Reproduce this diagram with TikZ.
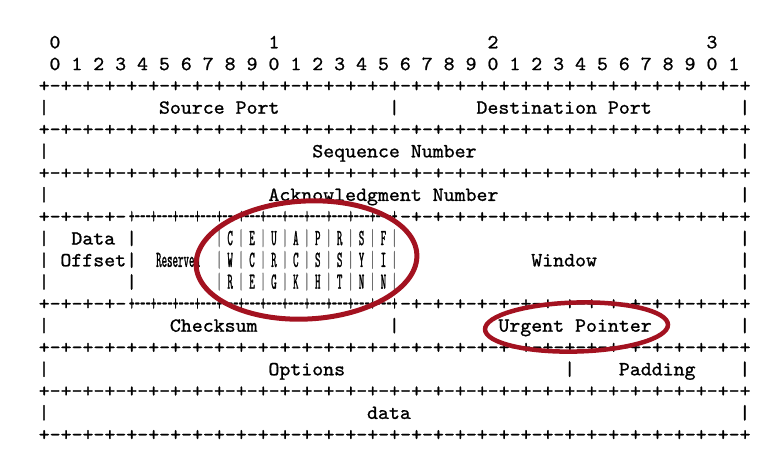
\documentclass[tikz,border=0pt]{standalone}
\usepackage{fontspec}
\usetikzlibrary{positioning}
\newfontfamily\rfcfont[FakeStretch=1.043,FakeBold=1]{lmmono10-regular.otf}
\newfontfamily\narrowfont[FakeStretch=0.4534,FakeBold=1]{lmmono10-regular.otf}
\newcommand{\rfcsize}{\fontsize{20pt}{21.8pt}\selectfont}
\newcommand{\narrowsize}{\fontsize{23pt}{21.8pt}\selectfont}
\newcommand{\tridash}{-\kern0pt-\kern0pt-}
\newcommand{\fullrule}{+-+-+-+-+-+-+-+-+-+-+-+-+-+-+-+-+-+-+-+-+-+-+-+-+-+-+-+-+-+-+-+-+}
\newcommand{\flagrule}{+\tridash+\tridash+\tridash+\tridash+\tridash+\tridash+%
  \tridash+\tridash+\tridash+\tridash+\tridash+\tridash+}
\definecolor{MarkRed}{RGB}{163,18,32}
\definecolor{BarGray}{RGB}{110,110,110}

\begin{document}
\begin{tikzpicture}[x=10.95pt,y=-21.8pt,
  txt/.style={font=\rfcfont\rfcsize,inner sep=0pt,anchor=base,yshift=-5.9pt},
  rule/.style={txt,anchor=base west},
  narrow/.style={font=\narrowfont\narrowsize,inner sep=0pt,anchor=base,yshift=-6.5pt},
  ring/.style={draw=MarkRed,line width=5pt},
]
\useasboundingbox (-44pt,86pt) rectangle (723pt,-364pt);
% bit ruler
\foreach \t in {0,...,3}
  \node[txt] (ten\t) at ({20*\t+1},-2) {\t};
\foreach \b [evaluate=\b as \d using {int(mod(\b,10))}] in {0,...,31}
  \node[txt] (bit\b) at ({2*\b+1},-1) {\d};
% separator lines
\foreach \k in {0,2,4,12,14,16}
  \node[rule] (sep\k) at (-0.5,\k) {\fullrule};
\foreach \k in {6,10}{
  \node[rule] (lsep\k) at (-0.5,\k) {+-+-+-+-};
  \node[narrow,anchor=base west] (msep\k) at (7.75,\k) {\flagrule};
  \node[rule] (rsep\k) at (32.5,\k) {-+-+-+-+-+-+-+-+-+-+-+-+-+-+-+-+};
}
% field borders
\foreach \k/\c in {1/0,1/32,1/64,3/0,3/64,5/0,5/64,7/0,7/8,7/64,8/0,8/8,8/64,
                   9/0,9/8,9/64,11/0,11/32,11/64,13/0,13/48,13/64,15/0,15/64}
  \node[txt] (bar\k-\c) at (\c,\k) {|};
\foreach \k in {7,8,9}
  \foreach \c in {16,18,...,32}
    \node[narrow,text=BarGray] (fbar\k-\c) at (\c,\k) {|};
% field names
\node[txt] (srcport) at (16,1) {Source Port};
\node[txt] (dstport) at (47.5,1) {Destination Port};
\node[txt] (seqnum) at (32,3) {Sequence Number};
\node[txt] (acknum) at (31,5) {Acknowledgment Number};
\node[txt] (data) at (4.5,7) {Data};
\node[txt] (offset) at (4.5,8) {Offset};
\node[narrow] (reserved) at (12.24,8) {Reserved};
\node[txt] (window) at (47.5,8) {Window};
\node[txt] (checksum) at (15.5,11) {Checksum};
\node[txt] (urgent) at (48.5,11) {Urgent Pointer};
\node[txt] (options) at (24,13) {Options};
\node[txt] (padding) at (56,13) {Padding};
\node[txt] (payload) at (31.5,15) {data};
% flag bits, one column each
\foreach \c/\a/\b/\d in {17/C/W/R,19/E/C/E,21/U/R/G,23/A/C/K,
                         25/P/S/H,27/R/S/T,29/S/Y/N,31/F/I/N}{
  \node[narrow] (flag\c a) at (\c,7) {\a};
  \node[narrow] (flag\c b) at (\c,8) {\b};
  \node[narrow] (flag\c c) at (\c,9) {\d};
}
% red marks
\coordinate (flagmark) at (262.5pt,-174pt);
\coordinate (urgmark) at (532.5pt,-241pt);
\draw[ring] (flagmark) ellipse [x radius=110.5pt,y radius=59pt,rotate=3];
\draw[ring,line width=4.5pt] (urgmark) ellipse [x radius=91.5pt,y radius=24.5pt,rotate=1.5];
\end{tikzpicture}
\end{document}
